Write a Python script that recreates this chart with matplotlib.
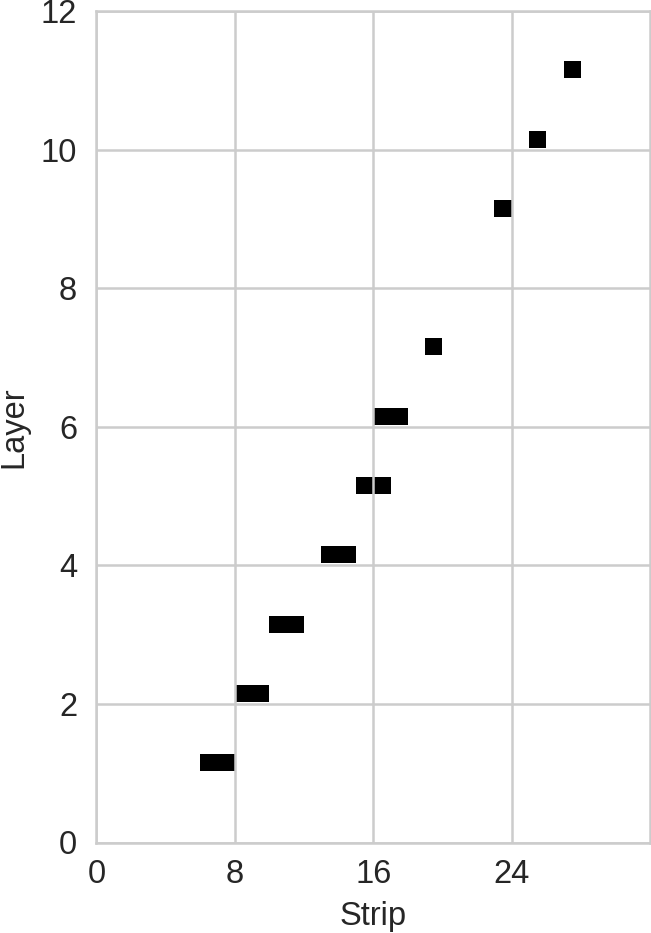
import matplotlib
matplotlib.use("Agg")
import matplotlib.pyplot as plt
import seaborn as sns

# hit cells: one entry per (layer, strip) hit
layers = [1, 1, 2, 2, 3, 3, 4, 4, 5, 5, 6, 6, 7, 9, 10, 11]
strips = [6, 7, 8, 9, 10, 11, 13, 14, 15, 16, 16, 17, 19, 23, 25, 27]

x_ticks = [0, 8, 16, 24]
y_ticks = [0, 2, 4, 6, 8, 10, 12]

sns.set_style("whitegrid")
plt.rcParams['font.family'] = ['Liberation Sans', 'DejaVu Sans']

fig = plt.figure(figsize=(6.51, 9.33), dpi=100)
ax = fig.add_axes([96.5 / 651, 90.5 / 933, (650 - 96.5) / 651, (842.5 - 11) / 933])

# each hit is one strip wide; grid is drawn on top of the cells
ax.bar(strips, 0.245, width=1.0, bottom=[l + 0.03 for l in layers],
       align='edge', color='black', edgecolor='none', zorder=0.4)
ax.set_axisbelow(False)

ax.set_xlim(0, 32)
ax.set_ylim(0, 12)
ax.set_xticks(x_ticks)
ax.set_yticks(y_ticks)
ax.grid(True, color='#cccccc', lw=1.8, zorder=0.5)
for sp in ax.spines.values():
    sp.set_color('#cccccc')
    sp.set_linewidth(1.8)

fs = 23.5
ax.tick_params(labelsize=fs, colors='#262626', length=0)
ax.tick_params(axis='x', pad=12)
ax.tick_params(axis='y', pad=14)
ax.set_xlabel('Strip', fontsize=fs, color='#262626', labelpad=8)
ax.set_ylabel('Layer', fontsize=fs, color='#262626', labelpad=8)

fig.savefig('out.png', dpi=100)
